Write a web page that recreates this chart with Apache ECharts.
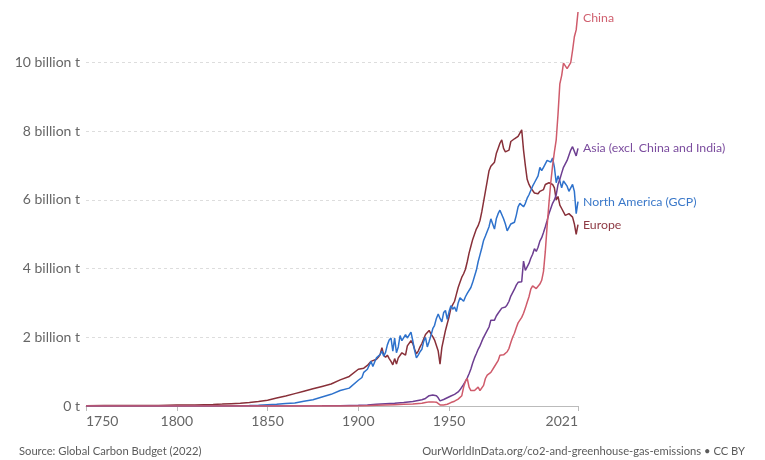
<!DOCTYPE html>
<html>
<head>
<meta charset="utf-8">
<script src="https://cdn.jsdelivr.net/npm/echarts@6/dist/echarts.min.js"></script>
<style>
html,body{margin:0;padding:0;background:#fff;}
#chart{width:765px;height:460px;}
</style>
</head>
<body>
<div id="chart"></div>
<script>
// Annual CO2 emissions, billion tonnes: [year, value]
const china = [[1750,0],[1900,0],[1905,0.01],[1910,0.02],[1915,0.03],[1920,0.04],[1925,0.05],[1930,0.06],[1935,0.08],[1937,0.1],[1939,0.12],[1940,0.13],[1941,0.12],[1942,0.13],[1943,0.11],[1944,0.08],[1945,0.03],[1946,0.02],[1947,0.03],[1948,0.04],[1949,0.05],[1950,0.08],[1951,0.1],[1952,0.13],[1953,0.14],[1954,0.17],[1955,0.2],[1956,0.24],[1957,0.3],[1958,0.55],[1959,0.72],[1960,0.8],[1961,0.55],[1962,0.45],[1963,0.44],[1964,0.45],[1965,0.5],[1966,0.55],[1967,0.45],[1968,0.48],[1969,0.6],[1970,0.8],[1971,0.9],[1972,0.95],[1973,0.98],[1974,1.0],[1975,1.15],[1976,1.2],[1977,1.32],[1978,1.48],[1979,1.5],[1980,1.49],[1981,1.47],[1982,1.58],[1983,1.68],[1984,1.85],[1985,2.0],[1986,2.12],[1987,2.28],[1988,2.42],[1989,2.47],[1990,2.58],[1991,2.7],[1992,2.85],[1993,3.02],[1994,3.18],[1995,3.4],[1996,3.5],[1997,3.53],[1998,3.42],[1999,3.45],[2000,3.55],[2001,3.66],[2002,3.92],[2003,4.5],[2004,5.25],[2005,5.9],[2006,6.5],[2007,7.0],[2008,7.4],[2009,7.75],[2010,8.5],[2011,9.38],[2012,9.62],[2013,9.98],[2014,9.95],[2015,9.82],[2016,9.78],[2017,10.0],[2018,10.35],[2019,10.75],[2020,10.95],[2021,11.47]];

const asiaExcl = [[1750,0],[1850,0.001],[1870,0.003],[1880,0.005],[1890,0.01],[1900,0.02],[1905,0.03],[1910,0.05],[1915,0.065],[1920,0.08],[1925,0.1],[1930,0.13],[1935,0.18],[1937,0.22],[1939,0.3],[1940,0.33],[1941,0.32],[1942,0.3],[1943,0.3],[1944,0.24],[1945,0.15],[1946,0.16],[1947,0.19],[1948,0.22],[1949,0.24],[1950,0.26],[1951,0.29],[1952,0.31],[1953,0.34],[1954,0.37],[1955,0.41],[1956,0.47],[1957,0.55],[1958,0.63],[1959,0.72],[1960,0.82],[1961,0.94],[1962,1.08],[1963,1.25],[1964,1.4],[1965,1.52],[1966,1.65],[1967,1.75],[1968,1.88],[1969,2.0],[1970,2.1],[1971,2.2],[1972,2.3],[1973,2.5],[1974,2.48],[1975,2.5],[1976,2.62],[1977,2.7],[1978,2.75],[1979,2.85],[1980,2.85],[1981,2.88],[1982,2.95],[1983,3.05],[1984,3.2],[1985,3.3],[1986,3.4],[1987,3.52],[1988,3.6],[1989,3.62],[1990,3.62],[1991,4.22],[1992,3.95],[1993,4.05],[1994,4.15],[1995,4.3],[1996,4.42],[1997,4.58],[1998,4.5],[1999,4.62],[2000,4.8],[2001,4.9],[2002,5.05],[2003,5.22],[2004,5.4],[2005,5.6],[2006,5.75],[2007,5.9],[2008,6.0],[2009,6.15],[2010,6.45],[2011,6.6],[2012,6.78],[2013,6.95],[2014,7.05],[2015,7.15],[2016,7.3],[2017,7.45],[2018,7.55],[2019,7.5],[2020,7.28],[2021,7.5]];

const northAmerica = [[1750,0],[1780,0.0005],[1800,0.001],[1810,0.002],[1820,0.003],[1830,0.006],[1840,0.012],[1845,0.02],[1850,0.035],[1855,0.05],[1860,0.07],[1865,0.09],[1870,0.14],[1875,0.18],[1880,0.26],[1885,0.34],[1890,0.45],[1895,0.52],[1900,0.75],[1901,0.8],[1902,0.83],[1903,0.98],[1904,0.94],[1905,1.07],[1906,1.12],[1907,1.3],[1908,1.15],[1909,1.28],[1910,1.4],[1911,1.37],[1912,1.5],[1913,1.6],[1914,1.45],[1915,1.56],[1916,1.78],[1917,1.92],[1918,1.98],[1919,1.6],[1920,1.98],[1921,1.55],[1922,1.72],[1923,2.05],[1924,1.9],[1925,1.95],[1926,2.08],[1927,1.98],[1928,2.0],[1929,2.15],[1930,1.9],[1931,1.62],[1932,1.4],[1933,1.48],[1934,1.58],[1935,1.65],[1936,1.88],[1937,2.0],[1938,1.72],[1939,1.88],[1940,2.05],[1941,2.25],[1942,2.35],[1943,2.55],[1944,2.68],[1945,2.55],[1946,2.45],[1947,2.72],[1948,2.78],[1949,2.52],[1950,2.75],[1951,2.92],[1952,2.82],[1953,2.88],[1954,2.75],[1955,3.0],[1956,3.15],[1957,3.12],[1958,3.05],[1959,3.18],[1960,3.28],[1961,3.3],[1962,3.45],[1963,3.6],[1964,3.78],[1965,3.95],[1966,4.2],[1967,4.4],[1968,4.6],[1969,4.82],[1970,4.95],[1971,5.0],[1972,5.22],[1973,5.45],[1974,5.3],[1975,5.15],[1976,5.45],[1977,5.6],[1978,5.7],[1979,5.7],[1980,5.45],[1981,5.3],[1982,5.1],[1983,5.1],[1984,5.3],[1985,5.35],[1986,5.35],[1987,5.55],[1988,5.8],[1989,5.9],[1990,5.85],[1991,5.8],[1992,5.9],[1993,6.05],[1994,6.15],[1995,6.2],[1996,6.4],[1997,6.5],[1998,6.55],[1999,6.7],[2000,6.95],[2001,6.85],[2002,6.95],[2003,7.05],[2004,7.15],[2005,7.2],[2006,7.1],[2007,7.22],[2008,6.95],[2009,6.5],[2010,6.7],[2011,6.55],[2012,6.35],[2013,6.55],[2014,6.6],[2015,6.4],[2016,6.25],[2017,6.3],[2018,6.45],[2019,6.25],[2020,5.6],[2021,5.95]];

const europe = [[1750,0.009],[1760,0.011],[1770,0.012],[1780,0.014],[1790,0.017],[1800,0.026],[1810,0.032],[1820,0.045],[1825,0.055],[1830,0.068],[1835,0.082],[1840,0.1],[1845,0.13],[1850,0.17],[1855,0.23],[1860,0.29],[1865,0.36],[1870,0.43],[1875,0.5],[1880,0.57],[1885,0.64],[1890,0.76],[1895,0.86],[1900,1.07],[1903,1.1],[1905,1.18],[1907,1.3],[1908,1.28],[1910,1.36],[1911,1.42],[1912,1.5],[1913,1.7],[1914,1.48],[1915,1.42],[1916,1.48],[1917,1.38],[1918,1.3],[1919,1.2],[1920,1.38],[1921,1.22],[1922,1.4],[1923,1.42],[1924,1.55],[1925,1.56],[1926,1.48],[1927,1.75],[1928,1.76],[1929,1.9],[1930,1.82],[1931,1.65],[1932,1.52],[1933,1.6],[1934,1.72],[1935,1.82],[1936,1.95],[1937,2.08],[1938,2.04],[1939,2.2],[1940,2.1],[1941,2.02],[1942,1.92],[1943,1.88],[1944,1.6],[1945,1.22],[1946,1.7],[1947,1.95],[1948,2.2],[1949,2.4],[1950,2.6],[1951,2.85],[1952,2.95],[1953,3.05],[1954,3.25],[1955,3.45],[1956,3.6],[1957,3.75],[1958,3.85],[1959,3.98],[1960,4.2],[1961,4.45],[1962,4.65],[1963,4.85],[1964,5.0],[1965,5.15],[1966,5.25],[1967,5.4],[1968,5.65],[1969,5.95],[1970,6.25],[1971,6.55],[1972,6.85],[1973,6.98],[1974,6.95],[1975,7.1],[1976,7.35],[1977,7.5],[1978,7.65],[1979,7.75],[1980,7.5],[1981,7.4],[1982,7.38],[1983,7.45],[1984,7.7],[1985,7.75],[1986,7.78],[1987,7.8],[1988,7.85],[1989,7.9],[1990,8.04],[1991,7.45],[1992,7.0],[1993,6.6],[1994,6.45],[1995,6.35],[1996,6.35],[1997,6.2],[1998,6.2],[1999,6.18],[2000,6.25],[2001,6.3],[2002,6.3],[2003,6.45],[2004,6.5],[2005,6.5],[2006,6.55],[2007,6.45],[2008,6.35],[2009,6.0],[2010,6.1],[2011,5.85],[2012,5.75],[2013,5.7],[2014,5.55],[2015,5.6],[2016,5.6],[2017,5.6],[2018,5.5],[2019,5.3],[2020,5.0],[2021,5.28]];

const seriesNames = ['China', 'Asia (excl. China and India)', 'North America (GCP)', 'Europe'];
const seriesColors = ['#CF5B6B', '#6D3E91', '#2E72CC', '#883039'];
const labelColors = ['#D0606F', '#7B4C9E', '#3A78C9', '#8E3A44'];
const xLabelValues = [1750, 1800, 1850, 1900, 1950, 2021];
const yLabelValues = [0, 2, 4, 6, 8, 10];
const sourceText = 'Source: Global Carbon Budget (2022)';
const noteText = 'OurWorldInData.org/co2-and-greenhouse-gas-emissions \u2022 CC BY';

const datasets = [china, asiaExcl, northAmerica, europe];
const FONT = 'Lato, "Noto Sans", sans-serif';

const chart = echarts.init(document.getElementById('chart'), null, {renderer: 'canvas'});
chart.setOption({
  animation: false,
  backgroundColor: '#fff',
  textStyle: {fontFamily: FONT},
  title: [
    {text: sourceText, left: 14, top: 441, textStyle: {fontSize: 11.2, fontWeight: 'normal', color: '#5b5b5b', fontFamily: FONT}},
    {text: noteText, right: 15, top: 441, textStyle: {fontSize: 11.2, fontWeight: 'normal', color: '#5b5b5b', fontFamily: FONT}}
  ],
  grid: {left: 86, right: 187, top: 11, bottom: 54, containLabel: false},
  xAxis: {
    type: 'value', min: 1750, max: 2021, interval: 50,
    axisLine: {show: true, lineStyle: {color: '#bbbbbb', width: 1}},
    axisTick: {show: true, length: 5, lineStyle: {color: '#bbbbbb'}, customValues: xLabelValues},
    axisLabel: {
      customValues: xLabelValues, color: '#666', fontSize: 14, fontFamily: FONT, margin: 8,
      alignMinLabel: 'left', alignMaxLabel: 'right',
      formatter: v => String(v)
    },
    splitLine: {show: false}
  },
  yAxis: {
    type: 'value', min: 0, max: 11.5, interval: 2,
    axisLine: {show: false}, axisTick: {show: false},
    axisLabel: {
      color: '#666', fontSize: 14, fontFamily: FONT, margin: 6, showMaxLabel: false,
      formatter: v => (yLabelValues.indexOf(v) >= 0 ? (v === 0 ? '0 t' : v + ' billion t') : '')
    },
    splitLine: {show: true, showMaxLine: false, showMinLine: false, lineStyle: {color: '#dddddd', type: [3, 3], width: 1}}
  },
  series: datasets.map((d, i) => ({
    name: seriesNames[i],
    type: 'line',
    data: d,
    showSymbol: false,
    symbol: 'none',
    clip: true,
    z: 10 - i,
    lineStyle: {color: seriesColors[i], width: 1.5},
    itemStyle: {color: seriesColors[i]},
    endLabel: {
      show: true, formatter: seriesNames[i], color: labelColors[i],
      fontSize: 12.3, fontFamily: FONT, distance: 5,
      offset: i === 0 ? [0, 6] : [0, 0]
    }
  }))
});
</script>
</body>
</html>
